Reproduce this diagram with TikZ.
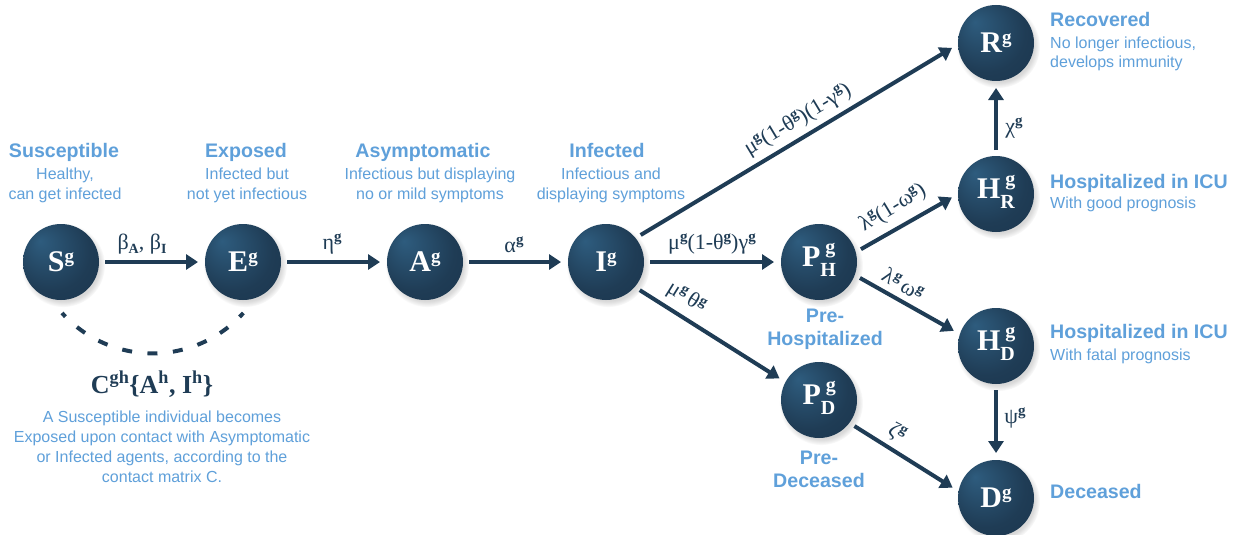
\documentclass[tikz,border=0pt]{standalone}
\usepackage{fontspec}
\setmainfont{Liberation Serif}
\newfontfamily\sansf{Liberation Sans}
\usetikzlibrary{arrows.meta,shadows}
\definecolor{navy}{HTML}{1F3C55}
\definecolor{navyL}{HTML}{2E5C7E}
\definecolor{navyD}{HTML}{18324A}
\definecolor{lblue}{HTML}{5FA0DA}
\pgfdeclareradialshading{ballshade}{\pgfpoint{-14bp}{14bp}}{color(0bp)=(navyL); color(26bp)=(navy); color(50bp)=(navyD)}
\newcommand\gsp{\smash{\raisebox{9pt}{\fontsize{19}{19}\selectfont g}}}
\newcommand\ns[1]{#1\gsp}
\newcommand\nss[2]{#1\rlap{\hspace{5pt}\smash{\raisebox{13pt}{\fontsize{20}{20}\selectfont g}}}\raisebox{-10pt}{\fontsize{20}{20}\selectfont #2}}
\newcommand\rg{\raisebox{7.5pt}{\fontsize{15}{15}\selectfont\bfseries g}}
\newcommand\rsub[1]{\raisebox{-4pt}{\fontsize{14}{14}\selectfont\bfseries #1}}
\tikzset{
  state/.style={circle, minimum size=76pt, inner sep=0pt, outer sep=0pt, shading=ballshade,
    text=white, font=\fontsize{30}{30}\selectfont\bfseries,
    circular drop shadow={shadow xshift=2pt, shadow yshift=-3pt, opacity=0.3, shadow scale=1.1}},
  flow/.style={draw=navy, line width=4pt, -{Triangle[length=12pt,width=15pt]}, shorten <=6pt, shorten >=7pt},
  contact/.style={draw=navy, line width=4pt, dash pattern=on 10pt off 15.5pt, dash phase=5pt},
  rate/.style={text=navy, font=\fontsize{22}{22}\selectfont, inner sep=0pt},
  tit/.style={text=lblue, font=\sansf\bfseries\fontsize{19.6}{22.5}\selectfont, inner sep=0pt, anchor=base},
  dsc/.style={text=lblue, font=\sansf\fontsize{16}{20}\selectfont, inner sep=0pt, anchor=base, align=center},
}
\begin{document}
\begin{tikzpicture}[x=1pt,y=-1pt]
\fill[white] (0,0) rectangle (1245,535);
\useasboundingbox (0,0) rectangle (1245,535);

% states
\node[state] (S) at (61,262) {\ns{S}};
\node[state] (E) at (243,262) {\ns{E}};
\node[state] (A) at (425,262) {\ns{A}};
\node[state] (I) at (606,262) {\ns{I}};
\node[state] (PH) at (819,262) {\nss{P}{H}};
\node[state] (PD) at (819,400) {\nss{P}{D}};
\node[state] (R) at (996,43) {\ns{R}};
\node[state] (HR) at (996,194) {\nss{H}{R}};
\node[state] (HD) at (996,346) {\nss{H}{D}};
\node[state] (D) at (996,498) {\ns{D}};

% transitions
\draw[flow] (S) -- (E);
\draw[flow] (E) -- (A);
\draw[flow] (A) -- (I);
\draw[flow] (I) -- (PH);
\draw[flow] (I.39) -- (R.182);
\draw[flow] (I.-41) -- (PD.152);
\draw[flow] (PH.15) -- (HR.180);
\draw[flow] (PH.-20) -- (HD.162);
\draw[flow] (PD.-37) -- (D.170);
\draw[flow] (HR) -- (R);
\draw[flow] (HD) -- (D);

% contact arc
\coordinate (arcstart) at (62,313);
\draw[contact] (arcstart) arc[start angle=138, end angle=42, radius=122];

% rate labels
\node[rate] (lbeta) at (142,244) {β\rsub{A}, β\rsub{I}};
\node[rate] (leta) at (332,244) {η\rg};
\node[rate] (lalpha) at (514,245) {α\rg};
\node[rate] (lmuh) at (712,244) {μ\rg(1-θ\rg)γ\rg};
\node[rate, rotate=31] (lmur) at (798,120) {μ\rg(1-θ\rg)(1-γ\rg)};
\node[rate, rotate=-32] (lmud) at (686,298) {μ\rg\,θ\rg};
\node[rate, rotate=31] (llr) at (893,208) {λ\rg(1-ω\rg)};
\node[rate, rotate=-31] (lld) at (903,284) {λ\rg\,ω\rg};
\node[rate, rotate=-33] (lzeta) at (897,433) {ζ\rg};
\node[rate] (lchi) at (1014,128) {χ\rg};
\node[rate] (lpsi) at (1015,418) {ψ\rg};

% contact formula
\node[text=navy, font=\fontsize{26}{26}\selectfont\bfseries, inner sep=0pt, anchor=base] (cform) at (152,393)
  {C\textsuperscript{gh}\{A\textsuperscript{h}, I\textsuperscript{h}\}};
\node[dsc] (cnote) at (162,482) {A Susceptible individual becomes\\Exposed upon contact with Asymptomatic\\or Infected agents, according to the\\contact matrix C.};

% state descriptions
\node[tit] (tS) at (64,157) {Susceptible};
\node[dsc] (dS) at (65,199) {Healthy,\\can get infected};
\node[tit] (tE) at (246,157) {Exposed};
\node[dsc] (dE) at (247,199) {Infected but\\not yet infectious};
\node[tit] (tA) at (423,157) {Asymptomatic};
\node[dsc] (dA) at (430,199) {Infectious but displaying\\no or mild symptoms};
\node[tit] (tI) at (607,157) {Infected};
\node[dsc] (dI) at (611,199) {Infectious and\\displaying symptoms};

\node[tit, anchor=base west] (tR) at (1050,27) {Recovered};
\node[dsc, anchor=base west, align=left] (dR) at (1050,68) {No longer infectious,\\develops immunity};
\node[tit, anchor=base west] (tHR) at (1050,188) {Hospitalized in ICU};
\node[dsc, anchor=base west, align=left] (dHR) at (1050,208) {With good prognosis};
\node[tit, anchor=base west] (tHD) at (1050,338) {Hospitalized in ICU};
\node[dsc, anchor=base west, align=left] (dHD) at (1050,360) {With fatal prognosis};
\node[tit, anchor=base west] (tD) at (1050,498) {Deceased};

\node[tit, align=center] (tPH) at (825,345) {Pre-\\Hospitalized};
\node[tit, align=center] (tPD) at (819,487) {Pre-\\Deceased};
\end{tikzpicture}
\end{document}
